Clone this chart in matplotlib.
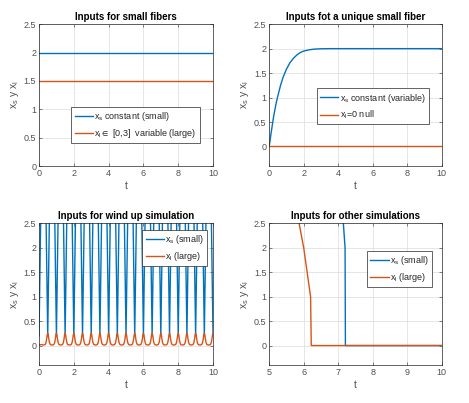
import matplotlib
matplotlib.use("Agg")
import matplotlib.pyplot as plt

# colores tipo MATLAB
AZUL = "#0072BD"
NARANJA = "#D95319"

# --- datos ---
# 1) fibras pequenas
t1 = [0, 10]
xs1 = [2.0, 2.0]
xl1 = [1.5, 1.5]

# 2) fibra pequena unica
t2 = [0, 0.1, 0.25, 0.4, 0.5, 0.65, 0.8, 1.0, 1.2, 1.4, 1.6, 1.8, 2.0, 2.3, 2.6, 3.0, 3.5, 4.0, 10]
xs2 = [0, 0.25, 0.6, 0.88, 1.03, 1.24, 1.41, 1.58, 1.71, 1.8, 1.87, 1.92, 1.95, 1.975, 1.99, 1.997, 2.0, 2.0, 2.0]
xl2 = [0] * len(t2)

# 3) wind up: un periodo (0.5) de cada senal, entre dos minimos/picos
periodo = 0.5
n_periodos = 20
off_s = [0.1, 0.25, 0.4, 0.5]
val_s = [2.7, 4.0, 2.7, 0.2]
off_l = [0.03, 0.06, 0.1, 0.15, 0.25, 0.35, 0.4, 0.44, 0.47, 0.5]
val_l = [0.22, 0.14, 0.06, 0.02, 0.01, 0.02, 0.06, 0.14, 0.22, 0.25]

# 4) otras simulaciones
t4s = [7.1, 7.2, 7.21, 10]
xs4 = [3.0, 2.0, 0.0, 0.0]
t4l = [5.6, 6.0, 6.2, 6.22, 10]
xl4 = [3.5, 2.0, 1.0, 0.0, 0.0]


def repetir(offs, vals, inicio):
    tt, yy = [0.0], [inicio]
    for k in range(n_periodos):
        for o, v in zip(offs, vals):
            tt.append(k * periodo + o)
            yy.append(v)
    return tt, yy


t3s, xs3 = repetir(off_s, val_s, 0.2)
t3l, xl3 = repetir(off_l, val_l, 0.01)
# primer periodo sin la bajada inicial del pico
t3l = [0.0] + t3l[4:]
xl3 = [0.01] + xl3[4:]

plt.rcParams["font.family"] = ["Liberation Sans", "DejaVu Sans"]
plt.rcParams["mathtext.default"] = "regular"

fig = plt.figure(figsize=(4.69, 4.03), dpi=100)
pos = [
    [0.0832, 0.588, 0.371, 0.352],
    [0.574, 0.588, 0.3676, 0.352],
    [0.0832, 0.094, 0.371, 0.352],
    [0.574, 0.094, 0.3676, 0.352],
]
axs = [fig.add_axes(p) for p in pos]

TXT = "#505050"


def estilo(ax, titulo, xlim, ylim, yticks):
    ax.set_xlim(*xlim)
    ax.set_ylim(*ylim)
    ax.set_yticks(yticks)
    ax.set_yticklabels([("%g" % v) for v in yticks])
    ax.set_title(titulo, fontsize=7, fontweight="bold", pad=3, color="black")
    ax.set_xlabel("t", fontsize=7.5, color=TXT, labelpad=2)
    ax.set_ylabel("$x_s$ y $x_l$", fontsize=7.5, color=TXT, labelpad=2)
    ax.grid(True, color="#dcdcdc", linewidth=0.5)
    ax.set_axisbelow(True)
    ax.tick_params(direction="in", length=2, width=0.5, labelsize=6.5,
                   colors=TXT, top=True, right=True, pad=2)
    for s in ax.spines.values():
        s.set_linewidth(0.5)
        s.set_color("#262626")


def leyenda(ax, x, y):
    lg = ax.legend(loc="upper left", bbox_to_anchor=(x, y), fontsize=6.5,
                   fancybox=False, framealpha=1, edgecolor="#262626",
                   handlelength=2.0, handletextpad=0.2, borderpad=0.35,
                   labelspacing=0.45, borderaxespad=0)
    lg.get_frame().set_linewidth(0.5)
    for tx in lg.get_texts():
        tx.set_color("#262626")


lw = 1.0
ax = axs[0]
ax.plot(t1, xs1, color=AZUL, lw=lw, label="$x_s$ constant (small)")
ax.plot(t1, xl1, color=NARANJA, lw=lw, label="$x_l\\in$ [0,3]  variable (large)")
estilo(ax, "Inputs for small fibers", (0, 10), (0, 2.5), [0, 0.5, 1, 1.5, 2, 2.5])
leyenda(ax, 0.186, 0.419)

ax = axs[1]
ax.plot(t2, xs2, color=AZUL, lw=lw, label="$x_s$ constant (variable)")
ax.plot(t2, xl2, color=NARANJA, lw=lw, label="$x_l$=0 null")
estilo(ax, "Inputs fot a unique small fiber", (0, 10), (-0.4, 2.5), [0, 0.5, 1, 1.5, 2, 2.5])
leyenda(ax, 0.275, 0.547)

ax = axs[2]
ax.plot(t3s, xs3, color=AZUL, lw=lw, label="$x_s$ (small)")
ax.plot(t3l, xl3, color=NARANJA, lw=lw, label="$x_l$ (large)")
estilo(ax, "Inputs for wind up simulation", (0, 10), (-0.4, 2.5), [0, 0.5, 1, 1.5, 2, 2.5])
leyenda(ax, 0.594, 0.953)

ax = axs[3]
ax.plot(t4s, xs4, color=AZUL, lw=lw, label="$x_s$ (small)")
ax.plot(t4l, xl4, color=NARANJA, lw=lw, label="$x_l$ (large)")
estilo(ax, "Inputs for other simulations", (5, 10), (-0.4, 2.5), [0, 0.5, 1, 1.5, 2, 2.5])
leyenda(ax, 0.569, 0.807)

fig.savefig("out.png", dpi=100)
